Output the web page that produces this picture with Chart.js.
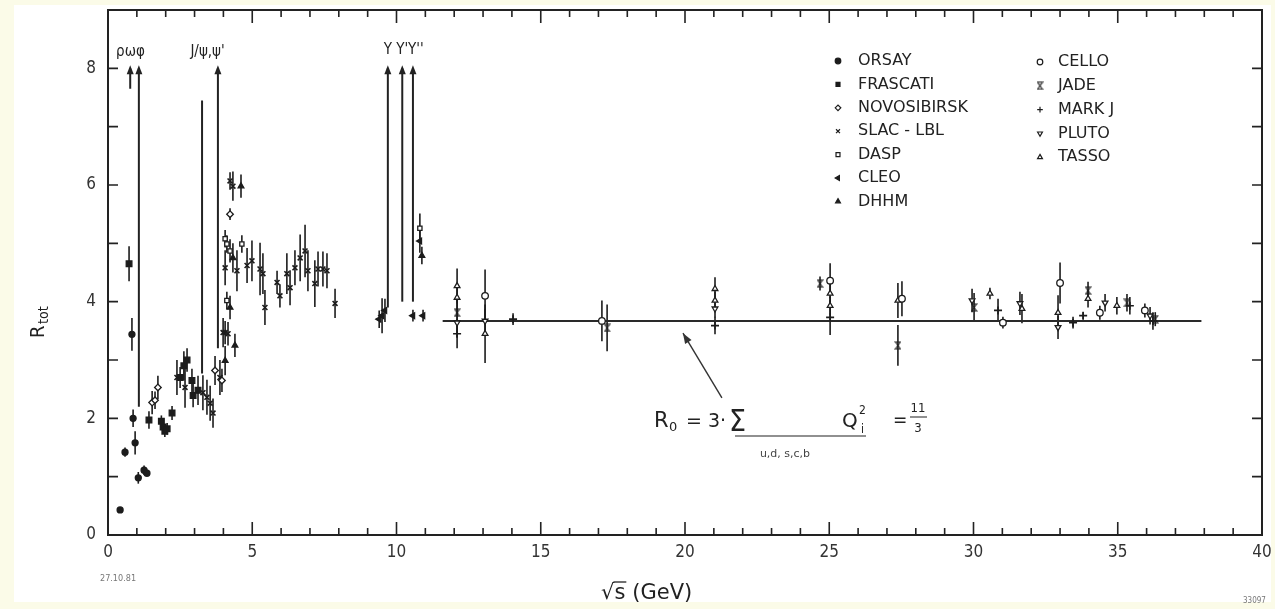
<!DOCTYPE html>
<html>
<head>
<meta charset="utf-8">
<script src="https://cdn.jsdelivr.net/npm/chart.js@4.4.1/dist/chart.umd.min.js"></script>
<style>
  html, body { margin: 0; padding: 0; background: #fff; }
  #contenedor { width: 1275px; height: 609px; }
</style>
</head>
<body>
<div id="contenedor"><canvas id="grafico" width="1275" height="609"></canvas></div>
<script>
// marcas de los ejes
const xTicks = [0, 5, 10, 15, 20, 25, 30, 35, 40];
const yTicks = [0, 2, 4, 6, 8];

// datos (sqrt(s) en GeV, R y error)
const orsayX = [0.42, 0.59, 0.83, 0.87, 0.94, 1.05, 1.25, 1.35];
const orsayY = [0.43, 1.42, 3.44, 2.00, 1.58, 0.98, 1.11, 1.06];
const orsayErr = [0.05, 0.08, 0.28, 0.15, 0.20, 0.10, 0.08, 0.06];

const frascatiX = [0.73, 1.42, 1.85, 1.91, 1.97, 2.05, 2.22, 2.50, 2.63, 2.74, 2.91, 2.95, 3.12];
const frascatiY = [4.65, 1.97, 1.95, 1.85, 1.78, 1.82, 2.09, 2.70, 2.90, 3.00, 2.65, 2.39, 2.48];
const frascatiErr = [0.30, 0.15, 0.10, 0.12, 0.10, 0.10, 0.12, 0.18, 0.25, 0.20, 0.20, 0.20, 0.25];

const novosibirskX = [1.53, 1.63, 1.73, 3.71, 3.95, 4.23];
const novosibirskY = [2.27, 2.31, 2.53, 2.82, 2.65, 5.50];
const novosibirskErr = [0.20, 0.15, 0.20, 0.25, 0.20, 0.10];

const slacX = [2.39, 2.67, 3.29, 3.43, 3.54, 3.64, 3.88, 3.99, 4.06, 4.16, 4.06, 4.23, 4.33, 4.47, 4.82, 4.99,
  5.27, 5.37, 5.44, 5.86, 5.96, 6.20, 6.31, 6.48, 6.66, 6.83, 6.93, 7.17, 7.28, 7.45, 7.59, 7.87];
const slacY = [2.70, 2.53, 2.44, 2.36, 2.26, 2.09, 2.70, 3.47, 3.47, 3.45, 4.58, 6.07, 5.98, 4.53, 4.62, 4.70,
  4.56, 4.48, 3.90, 4.33, 4.10, 4.48, 4.24, 4.58, 4.75, 4.87, 4.53, 4.31, 4.56, 4.56, 4.53, 3.97];
const slacErr = [0.30, 0.35, 0.30, 0.30, 0.30, 0.25, 0.30, 0.25, 0.20, 0.20, 0.30, 0.15, 0.25, 0.35, 0.30, 0.35,
  0.45, 0.35, 0.30, 0.20, 0.20, 0.35, 0.30, 0.30, 0.40, 0.45, 0.35, 0.40, 0.30, 0.30, 0.30, 0.25];

const daspX = [4.06, 4.12, 4.23, 4.64, 4.12, 10.81];
const daspY = [5.08, 4.99, 4.87, 4.99, 4.02, 5.26];
const daspErr = [0.15, 0.15, 0.20, 0.15, 0.15, 0.25];

const cleoX = [9.40, 9.50, 9.60, 10.57, 10.92, 10.81];
const cleoY = [3.70, 3.76, 3.85, 3.76, 3.76, 5.04];
const cleoErr = [0.15, 0.30, 0.20, 0.10, 0.10, 0.20];

const dhhmX = [4.61, 4.33, 4.40, 4.23, 4.06, 10.88];
const dhhmY = [5.98, 4.75, 3.25, 3.90, 2.99, 4.79];
const dhhmErr = [0.20, 0.25, 0.20, 0.20, 0.25, 0.15];

const celloX = [13.07, 17.12, 25.03, 27.52, 31.02, 33.00, 34.38, 35.94];
const celloY = [4.10, 3.67, 4.36, 4.05, 3.64, 4.32, 3.81, 3.85];
const celloErr = [0.45, 0.35, 0.30, 0.30, 0.10, 0.35, 0.12, 0.12];

const jadeX = [12.10, 17.30, 24.68, 27.38, 30.02, 33.97, 35.32, 36.30];
const jadeY = [3.81, 3.55, 4.31, 3.25, 3.90, 4.19, 3.98, 3.70];
const jadeErr = [0.30, 0.40, 0.12, 0.35, 0.25, 0.15, 0.15, 0.12];

const markjX = [12.10, 14.04, 21.04, 25.03, 30.85, 33.45, 33.80, 35.42, 36.22];
const markjY = [3.45, 3.70, 3.59, 3.73, 3.85, 3.64, 3.76, 3.93, 3.67];
const markjErr = [0.25, 0.10, 0.15, 0.30, 0.20, 0.10, 0.06, 0.15, 0.15];

const plutoX = [12.10, 13.07, 21.04, 29.95, 31.61, 32.93, 34.56, 36.12];
const plutoY = [3.64, 3.67, 3.88, 4.02, 3.97, 3.56, 3.98, 3.76];
const plutoErr = [0.25, 0.20, 0.15, 0.20, 0.20, 0.20, 0.15, 0.15];

const tassoX = [12.10, 12.10, 13.07, 21.04, 21.04, 25.03, 25.03, 27.38, 30.57, 31.68, 32.93, 33.97, 34.97];
const tassoY = [4.27, 4.07, 3.45, 4.22, 4.02, 4.14, 3.93, 4.02, 4.14, 3.88, 3.81, 4.05, 3.93];
const tassoErr = [0.30, 0.20, 0.50, 0.20, 0.15, 0.20, 0.15, 0.30, 0.10, 0.25, 0.30, 0.15, 0.15];

// resonancias (lineas verticales)
const resX = [0.77, 1.07, 3.26, 3.81, 9.70, 10.20, 10.57];
const resTop = [8, 8, 7.45, 8, 8, 8, 8];
const resBottom = [7.65, 2.20, 2.77, 3.20, 3.90, 4.00, 4.00];

// prediccion R0 = 11/3
const teoriaX = [11.6, 37.9];
const teoriaY = [3.667, 3.667];

const fuente = "'DejaVu Sans Condensed', 'DejaVu Sans', sans-serif";
const fuenteAncha = "'DejaVu Sans', sans-serif";
const negro = '#1c1c1c';

function relojArena() {
  const c = document.createElement('canvas');
  c.width = 7;
  c.height = 9;
  const g = c.getContext('2d');
  g.strokeStyle = negro;
  g.lineWidth = 1.1;
  g.beginPath();
  g.moveTo(1, 1);
  g.lineTo(6, 1);
  g.lineTo(1, 8);
  g.lineTo(6, 8);
  g.closePath();
  g.stroke();
  return c;
}

function serie(label, xs, ys, errs, estilo) {
  return Object.assign({
    label: label,
    data: xs.map((x, i) => ({ x: x, y: ys[i] })),
    errores: errs,
    pointRadius: 3.3,
    borderColor: negro,
    backgroundColor: negro,
    pointBorderWidth: 1.3,
    showLine: false
  }, estilo);
}

const blanco = '#ffffff';
const datasets = [
  serie('ORSAY', orsayX, orsayY, orsayErr, { pointStyle: 'circle', pointRadius: 3 }),
  serie('FRASCATI', frascatiX, frascatiY, frascatiErr, { pointStyle: 'rect', pointRadius: 4 }),
  serie('NOVOSIBIRSK', novosibirskX, novosibirskY, novosibirskErr, { pointStyle: 'rectRot', backgroundColor: blanco }),
  serie('SLAC - LBL', slacX, slacY, slacErr, { pointStyle: 'crossRot', pointRadius: 3.5, pointBorderWidth: 1.6 }),
  serie('DASP', daspX, daspY, daspErr, { pointStyle: 'rect', pointRadius: 3, backgroundColor: blanco }),
  serie('CLEO', cleoX, cleoY, cleoErr, { pointStyle: 'triangle', rotation: -90 }),
  serie('DHHM', dhhmX, dhhmY, dhhmErr, { pointStyle: 'triangle' }),
  serie('CELLO', celloX, celloY, celloErr, { pointStyle: 'circle', backgroundColor: blanco }),
  serie('JADE', jadeX, jadeY, jadeErr, { pointStyle: relojArena() }),
  serie('MARK J', markjX, markjY, markjErr, { pointStyle: 'cross', pointRadius: 4, pointBorderWidth: 1.6 }),
  serie('PLUTO', plutoX, plutoY, plutoErr, { pointStyle: 'triangle', rotation: 180, backgroundColor: blanco }),
  serie('TASSO', tassoX, tassoY, tassoErr, { pointStyle: 'triangle', backgroundColor: blanco }),
  {
    label: 'R0',
    data: teoriaX.map((x, i) => ({ x: x, y: teoriaY[i] })),
    showLine: true,
    borderColor: '#2a2a2a',
    borderWidth: 2,
    pointRadius: 0
  }
];

// fondo crema del escaneo
const fondo = {
  id: 'fondo',
  beforeDraw(chart) {
    const ctx = chart.ctx;
    ctx.save();
    ctx.fillStyle = '#fbfbe8';
    ctx.fillRect(0, 0, chart.width, chart.height);
    ctx.fillStyle = '#ffffff';
    ctx.fillRect(14, 5, chart.width - 18, chart.height - 12);
    ctx.restore();
  }
};

// barras de error verticales
const barrasError = {
  id: 'barrasError',
  beforeDatasetsDraw(chart) {
    const ctx = chart.ctx;
    const xs = chart.scales.x;
    const ys = chart.scales.y;
    ctx.save();
    ctx.strokeStyle = negro;
    ctx.lineWidth = 1.6;
    chart.data.datasets.forEach(ds => {
      if (!ds.errores) return;
      ds.data.forEach((p, i) => {
        const e = ds.errores[i];
        const px = xs.getPixelForValue(p.x);
        ctx.beginPath();
        ctx.moveTo(px, ys.getPixelForValue(p.y - e));
        ctx.lineTo(px, ys.getPixelForValue(p.y + e));
        ctx.stroke();
      });
    });
    ctx.restore();
  }
};

function flecha(ctx, x1, y1, x2, y2, tam) {
  const ang = Math.atan2(y2 - y1, x2 - x1);
  ctx.beginPath();
  ctx.moveTo(x1, y1);
  ctx.lineTo(x2, y2);
  ctx.stroke();
  ctx.beginPath();
  ctx.moveTo(x2, y2);
  ctx.lineTo(x2 - tam * Math.cos(ang - 0.35), y2 - tam * Math.sin(ang - 0.35));
  ctx.lineTo(x2 - tam * Math.cos(ang + 0.35), y2 - tam * Math.sin(ang + 0.35));
  ctx.closePath();
  ctx.fill();
}

// marco, marcas hacia dentro, resonancias, leyenda y textos
const decoracion = {
  id: 'decoracion',
  afterDraw(chart) {
    const ctx = chart.ctx;
    const a = chart.chartArea;
    const xs = chart.scales.x;
    const ys = chart.scales.y;
    ctx.save();
    ctx.strokeStyle = '#222';
    ctx.fillStyle = '#222';
    ctx.lineWidth = 2;
    ctx.strokeRect(a.left, a.top, a.right - a.left, a.bottom - a.top);

    ctx.lineWidth = 1.6;
    for (let v = 1; v < 40; v++) {
      const px = xs.getPixelForValue(v);
      const len = v % 5 === 0 ? 13 : 7;
      ctx.beginPath();
      ctx.moveTo(px, a.bottom);
      ctx.lineTo(px, a.bottom - len);
      ctx.moveTo(px, a.top);
      ctx.lineTo(px, a.top + len);
      ctx.stroke();
    }
    for (let v = 1; v <= 8; v++) {
      const py = ys.getPixelForValue(v);
      ctx.beginPath();
      ctx.moveTo(a.left, py);
      ctx.lineTo(a.left + 10, py);
      ctx.moveTo(a.right, py);
      ctx.lineTo(a.right - 10, py);
      ctx.stroke();
    }

    // resonancias
    ctx.lineWidth = 2;
    resX.forEach((x, i) => {
      const px = xs.getPixelForValue(x);
      const top = ys.getPixelForValue(resTop[i]);
      ctx.beginPath();
      ctx.moveTo(px, top);
      ctx.lineTo(px, ys.getPixelForValue(resBottom[i]));
      ctx.stroke();
      if (resTop[i] === 8) {
        ctx.beginPath();
        ctx.moveTo(px, top - 3);
        ctx.lineTo(px - 3.5, top + 6);
        ctx.lineTo(px + 3.5, top + 6);
        ctx.closePath();
        ctx.fill();
      }
    });
    ctx.font = '15px ' + fuente;
    ctx.textAlign = 'center';
    ctx.textBaseline = 'middle';
    ctx.fillText('ρωφ', xs.getPixelForValue(0.78), a.top + 42);
    ctx.fillText('J/ψ,ψ\'', xs.getPixelForValue(3.45), a.top + 42);
    ctx.fillText('Υ Υ\'Υ\'\'', xs.getPixelForValue(10.25), a.top + 40);

    // leyenda en dos columnas
    const col1 = chart.data.datasets.slice(0, 7);
    const col2 = chart.data.datasets.slice(7, 12);
    ctx.font = '16px ' + fuenteAncha;
    ctx.textAlign = 'left';
    const dibujarEntrada = (ds, mx, tx, py) => {
      ctx.save();
      ctx.strokeStyle = ds.borderColor;
      ctx.fillStyle = ds.backgroundColor;
      ctx.lineWidth = 1.2;
      Chart.helpers.drawPoint(ctx, {
        pointStyle: ds.pointStyle,
        rotation: ds.rotation || 0,
        radius: 2.8,
        borderWidth: 1.2
      }, mx, py);
      ctx.restore();
      ctx.fillStyle = '#222';
      ctx.fillText(ds.label, tx, py);
    };
    col1.forEach((ds, i) => dibujarEntrada(ds, 838, 858, 61 + i * 23.4));
    col2.forEach((ds, i) => dibujarEntrada(ds, 1040, 1058, 62 + i * 23.8));

    // formula R0
    ctx.fillStyle = '#222';
    ctx.textBaseline = 'alphabetic';
    ctx.font = '21px ' + fuenteAncha;
    ctx.fillText('R', 654, 427);
    ctx.font = '13px ' + fuenteAncha;
    ctx.fillText('0', 669, 431);
    ctx.font = '19px ' + fuenteAncha;
    ctx.fillText('= 3·', 686, 427);
    ctx.font = '30px ' + fuente;
    ctx.fillText('Σ', 729, 431);
    ctx.font = '20px ' + fuenteAncha;
    ctx.fillText('Q', 842, 427);
    ctx.font = '12px ' + fuente;
    ctx.fillText('2', 859, 414);
    ctx.fillText('i', 861, 433);
    ctx.font = '19px ' + fuente;
    ctx.fillText('=', 893, 426);
    ctx.font = '13px ' + fuente;
    ctx.textAlign = 'center';
    ctx.fillText('11', 918, 412);
    ctx.fillText('3', 918, 432);
    ctx.lineWidth = 1.2;
    ctx.beginPath();
    ctx.moveTo(910, 417);
    ctx.lineTo(927, 417);
    ctx.moveTo(735, 436);
    ctx.lineTo(866, 436);
    ctx.stroke();
    ctx.font = '11px ' + fuenteAncha;
    ctx.fillStyle = '#444';
    ctx.fillText('u,d, s,c,b', 785, 457);

    ctx.strokeStyle = '#333';
    ctx.fillStyle = '#333';
    ctx.lineWidth = 1.4;
    flecha(ctx, xs.getPixelForValue(21.28), ys.getPixelForValue(2.35),
      xs.getPixelForValue(19.93), ys.getPixelForValue(3.46), 11);

    // titulos de ejes
    ctx.fillStyle = '#222';
    ctx.strokeStyle = '#222';
    ctx.textAlign = 'left';
    ctx.font = '21px ' + fuenteAncha;
    const raiz = ctx.measureText('√').width;
    const ese = ctx.measureText('s').width;
    ctx.fillText('√', 601, 599);
    ctx.fillText('s', 601 + raiz, 599);
    ctx.fillText('(GeV)', 601 + raiz + ese + 7, 599);
    ctx.lineWidth = 1.3;
    ctx.beginPath();
    ctx.moveTo(601 + raiz - 1, 582);
    ctx.lineTo(601 + raiz + ese + 1, 582);
    ctx.stroke();

    ctx.save();
    ctx.translate(44, 338);
    ctx.rotate(-Math.PI / 2);
    ctx.font = '20px ' + fuente;
    ctx.fillText('R', 0, 0);
    ctx.font = '14px ' + fuente;
    ctx.fillText('tot', 14, 4);
    ctx.restore();

    ctx.fillStyle = '#777';
    ctx.font = '9px ' + fuente;
    ctx.fillText('27.10.81', 100, 581);
    ctx.font = '8px ' + fuente;
    ctx.fillText('33097', 1243, 603);
    ctx.restore();
  }
};

const tickFont = { family: fuente, size: 17 };
const grafico = new Chart(document.getElementById('grafico'), {
  type: 'scatter',
  data: { datasets: datasets },
  options: {
    responsive: false,
    animation: false,
    events: [],
    layout: { padding: { left: 0, right: 13, top: 10, bottom: 0 } },
    plugins: {
      legend: { display: false },
      tooltip: { enabled: false }
    },
    scales: {
      x: {
        type: 'linear',
        min: 0,
        max: 40,
        afterBuildTicks: s => { s.ticks = xTicks.map(v => ({ value: v })); },
        afterFit: s => { s.height = 74; s.paddingLeft = 0; s.paddingRight = 0; },
        grid: { display: false, drawTicks: false },
        border: { display: false },
        ticks: { padding: 7, font: tickFont, color: '#333', maxRotation: 0, autoSkip: false }
      },
      y: {
        type: 'linear',
        min: 0,
        max: 9,
        afterBuildTicks: s => { s.ticks = yTicks.map(v => ({ value: v })); },
        afterFit: s => { s.width = 108; s.paddingTop = 0; s.paddingBottom = 0; },
        grid: { display: false, drawTicks: false },
        border: { display: false },
        ticks: { padding: 12, font: tickFont, color: '#333', autoSkip: false }
      }
    }
  },
  plugins: [fondo, barrasError, decoracion]
});
</script>
</body>
</html>
